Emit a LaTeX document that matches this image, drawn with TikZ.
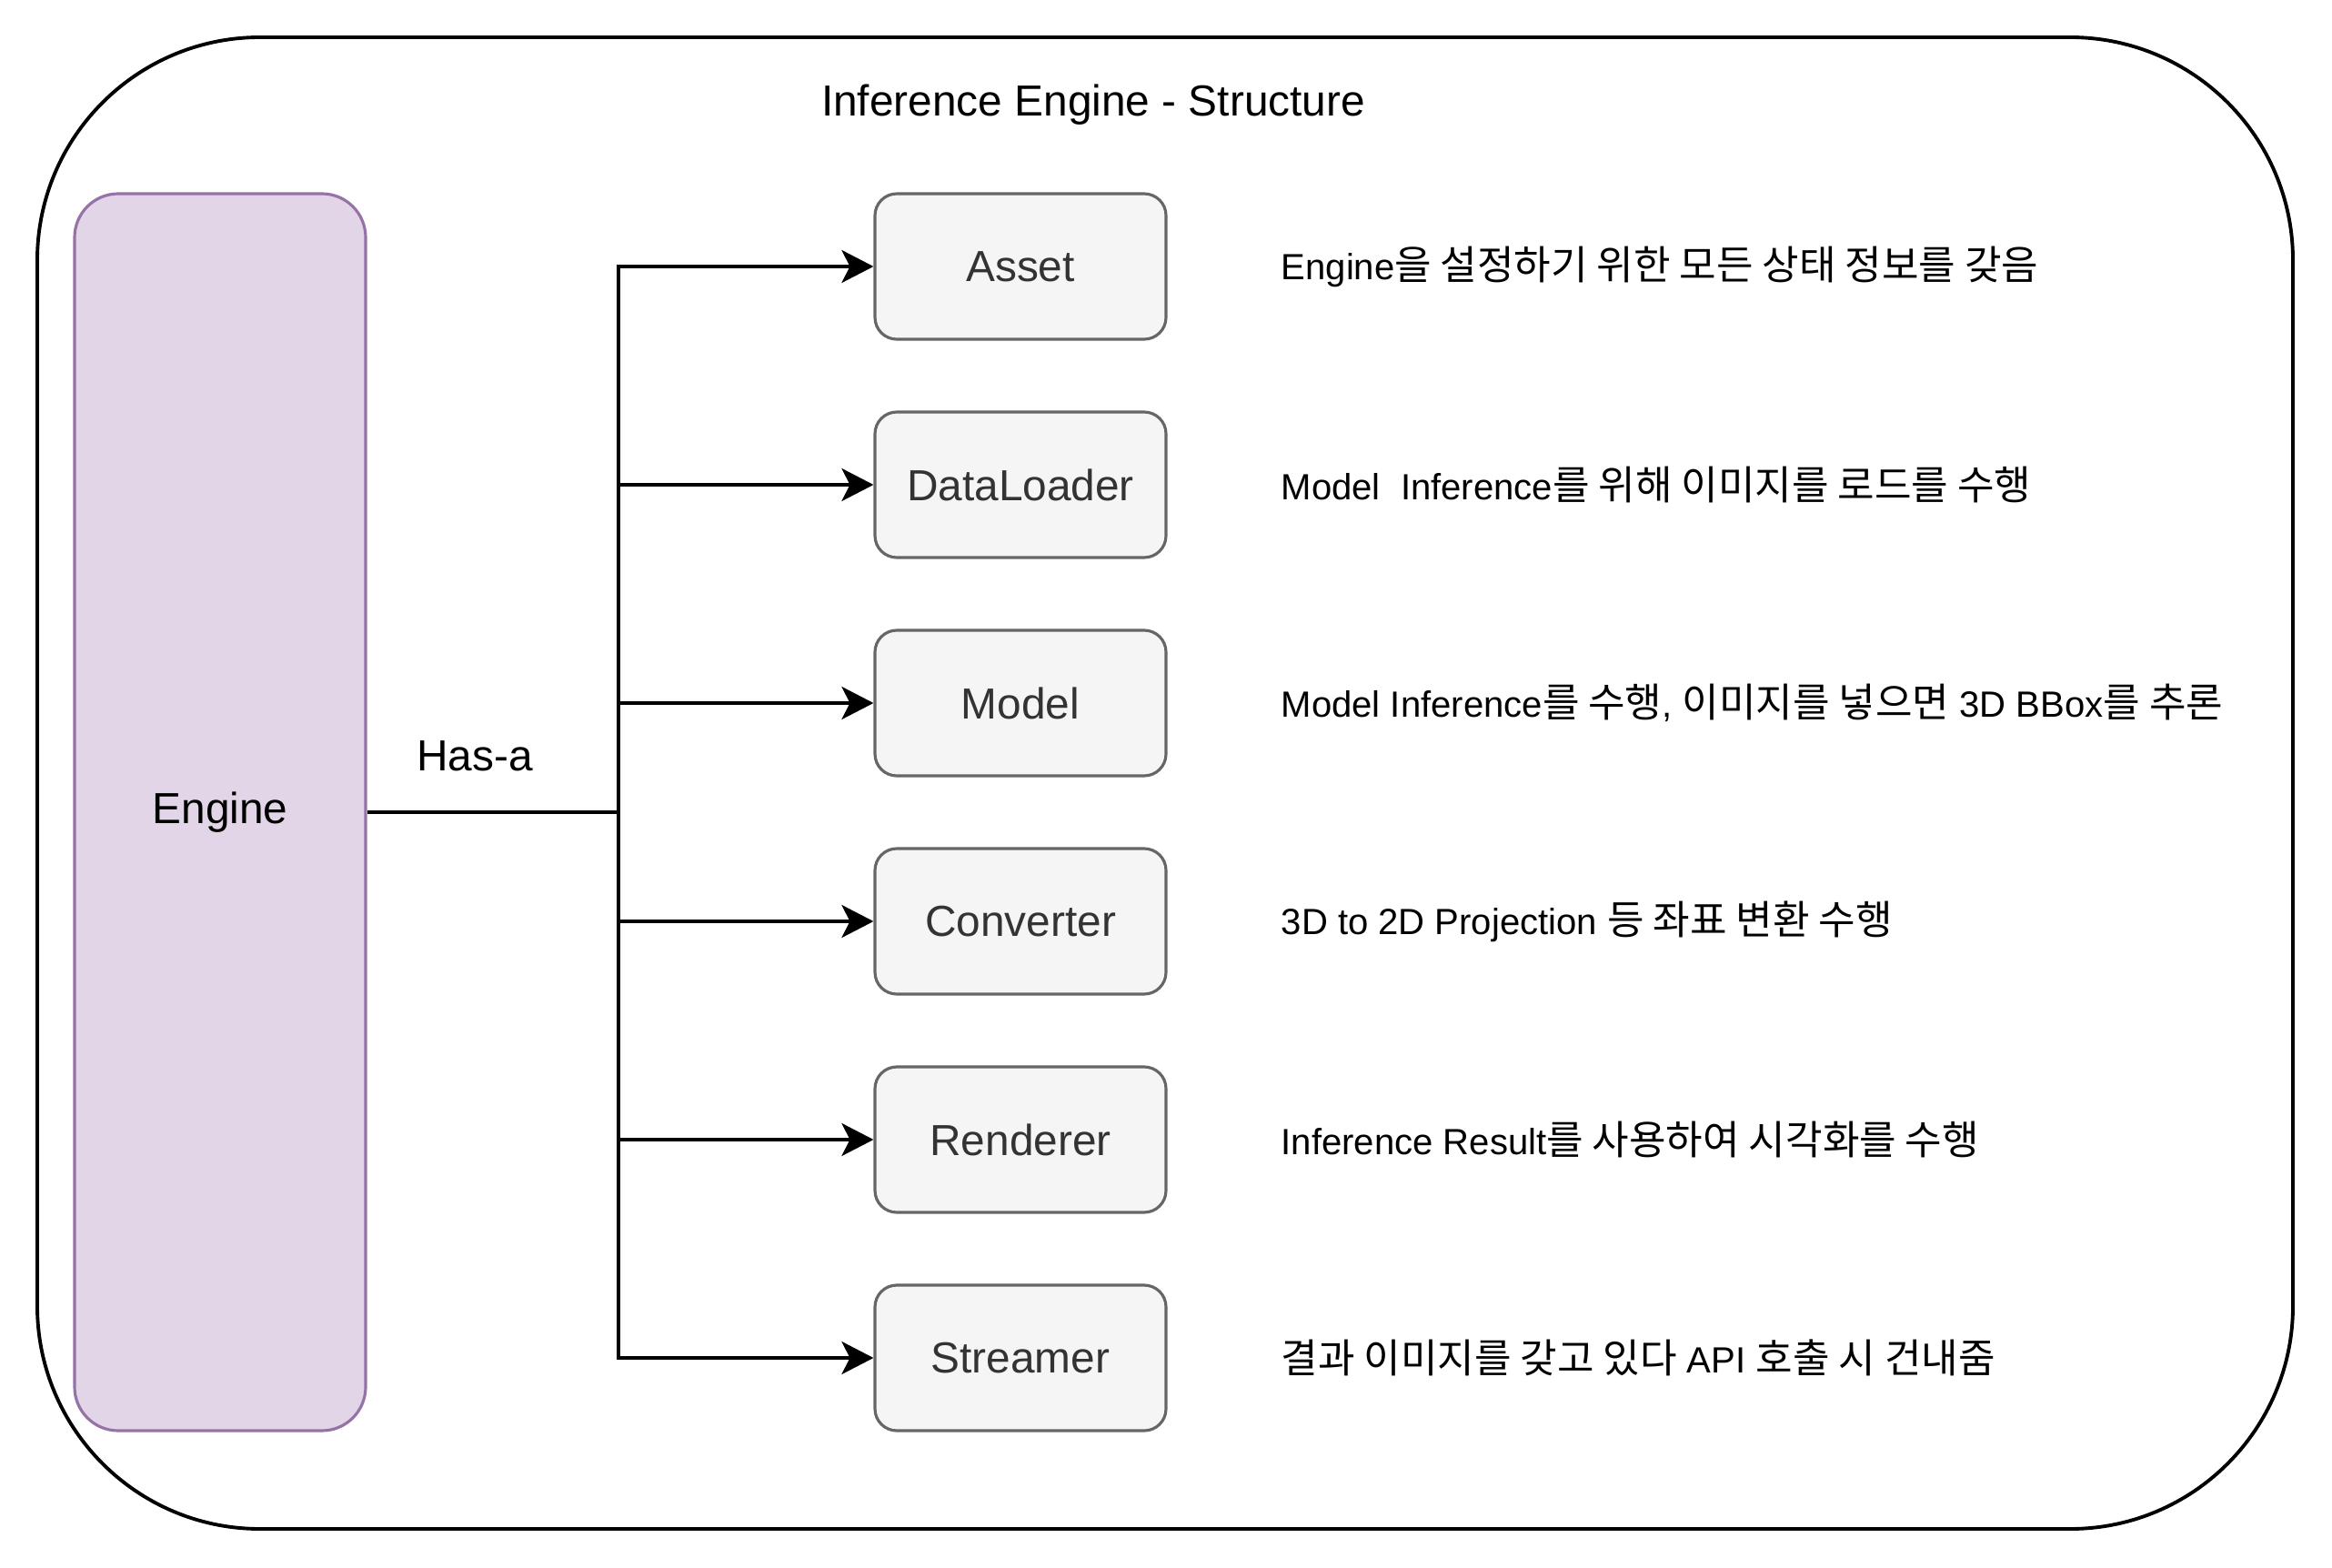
\documentclass[tikz,border=0pt]{standalone}
\usepackage{fontspec}
\setmainfont{Liberation Sans}
\newfontfamily\kr[Scale=1.1]{Noto Sans CJK KR}
\usetikzlibrary{arrows.meta}
\definecolor{enginefill}{HTML}{E1D5E7}
\definecolor{engineline}{HTML}{9673A6}
\definecolor{partfill}{HTML}{F5F5F5}
\definecolor{partline}{HTML}{666666}
\definecolor{parttext}{HTML}{333333}
\begin{document}
\begin{tikzpicture}[every node/.style={font=\fontsize{13.6}{16}\selectfont},engbox/.style={draw=engineline,fill=enginefill,rounded corners=0.48cm,line width=0.9pt,minimum width=3.2cm,minimum height=13.6cm},part/.style={draw=partline,fill=partfill,text=parttext,rounded corners=0.24cm,line width=0.9pt,minimum width=3.2cm,minimum height=1.6cm},desc/.style={anchor=west,inner sep=0pt,font=\fontsize{11.4}{14}\selectfont},conn/.style={line width=0.9pt,-{Stealth[length=3.5mm,width=3.6mm,inset=0.9mm]}}]
\useasboundingbox (0,0) rectangle (25.64,-17.24);
\draw[line width=1.1pt,rounded corners=2.45cm] (0.41,-0.41) rectangle (25.21,-16.81);
\node (title) at (12.02,-1.15) {Inference Engine - Structure};
\node[engbox] (engine) at (2.42,-8.93) {Engine};
\node[part] (asset) at (11.22,-2.93) {Asset};
\node[part] (loader) at (11.22,-5.33) {DataLoader};
\node[part] (model) at (11.22,-7.73) {Model};
\node[part] (converter) at (11.22,-10.13) {Converter};
\node[part] (renderer) at (11.22,-12.53) {Renderer};
\node[part] (streamer) at (11.22,-14.93) {Streamer};
\node (hasa) at (5.22,-8.31) {Has-a};
\coordinate (hub) at (6.80,-8.93);
\draw[line width=0.9pt] (engine) -- (hub);
\draw[conn] (hub) |- (asset);
\draw[conn] (hub) |- (loader);
\draw[conn] (hub) |- (model);
\draw[conn] (hub) |- (converter);
\draw[conn] (hub) |- (renderer);
\draw[conn] (hub) |- (streamer);
\node[desc] (dasset) at (14.08,-2.93) {Engine{\kr 을 설정하기 위한 모든 상태 정보를 갖음}};
\node[desc] (dloader) at (14.08,-5.33) {Model\ \ Inference{\kr 를 위해 이미지를 로드를 수행}};
\node[desc] (dmodel) at (14.08,-7.73) {Model Inference{\kr 를 수행}, {\kr 이미지를 넣으면} 3D BBox{\kr 를 추론}};
\node[desc] (dconverter) at (14.08,-10.13) {3D to 2D Projection {\kr 등 좌표 변환 수행}};
\node[desc] (drenderer) at (14.08,-12.53) {Inference Result{\kr 를 사용하여 시각화를 수행}};
\node[desc] (dstreamer) at (14.08,-14.93) {{\kr 결과 이미지를 갖고 있다} API {\kr 호출 시 건내줌}};
\end{tikzpicture}
\end{document}
